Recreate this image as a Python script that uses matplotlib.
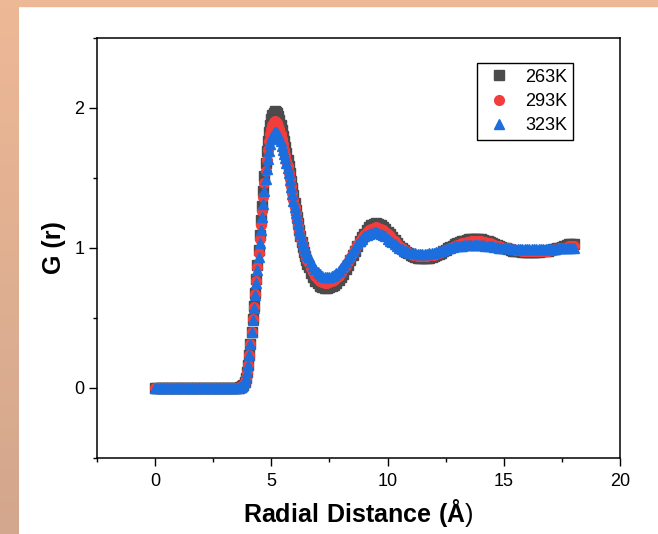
import numpy as np
import matplotlib
matplotlib.use('Agg')
import matplotlib.pyplot as plt
from matplotlib.patches import Rectangle
from matplotlib.colors import LinearSegmentedColormap

plt.rcParams['font.family'] = ['Liberation Sans', 'DejaVu Sans']
plt.rcParams['mathtext.fontset'] = 'custom'
plt.rcParams['mathtext.rm'] = 'Liberation Sans'
plt.rcParams['mathtext.bf'] = 'Liberation Sans:bold'

# radial grid (Å): 0.1 steps, 0.05 steps over the first peak
r = np.concatenate([np.linspace(0, 3.5, 36), np.linspace(3.6, 6.55, 60), np.linspace(6.6, 18.0, 115)])

g263 = [0, 0, 0, 0, 0, 0, 0, 0, 0, 0, 0, 0, 0, 0, 0, 0, 0, 0,
        0, 0, 0, 0, 0, 0, 0, 0, 0, 0, 0, 0, 0, 0, 0, 0, 0, 0,
        # 3.60 - 6.55
        0.000, 0.002, 0.006, 0.012, 0.022, 0.040, 0.068, 0.11, 0.165, 0.235,
        0.315, 0.40, 0.49, 0.585, 0.68, 0.78, 0.88, 0.985, 1.09, 1.195,
        1.30, 1.405, 1.51, 1.605, 1.69, 1.765, 1.83, 1.88, 1.92, 1.945,
        1.965, 1.975, 1.97, 1.96, 1.94, 1.915, 1.88, 1.84, 1.80, 1.76,
        1.72, 1.675, 1.63, 1.58, 1.53, 1.48, 1.43, 1.375, 1.32, 1.27,
        1.22, 1.175, 1.13, 1.085, 1.04, 1.005, 0.97, 0.94, 0.91, 0.885,
        # 6.6 - 18.0
        0.86, 0.82, 0.79, 0.765, 0.745, 0.73, 0.72, 0.715, 0.715, 0.72,
        0.725, 0.735, 0.75, 0.77, 0.79, 0.815, 0.845, 0.875, 0.91, 0.945,
        0.98, 1.01, 1.045, 1.075, 1.10, 1.125, 1.145, 1.16, 1.17, 1.175,
        1.17, 1.165, 1.15, 1.135, 1.115, 1.095, 1.075, 1.055, 1.035, 1.015,
        1.00, 0.985, 0.97, 0.96, 0.95, 0.94, 0.935, 0.93, 0.925, 0.925,
        0.925, 0.925, 0.93, 0.935, 0.94, 0.945, 0.955, 0.965, 0.975, 0.985,
        0.995, 1.005, 1.015, 1.025, 1.03, 1.04, 1.045, 1.05, 1.055, 1.06,
        1.06, 1.06, 1.06, 1.06, 1.06, 1.055, 1.05, 1.045, 1.04, 1.035,
        1.025, 1.02, 1.01, 1.005, 1.00, 0.995, 0.99, 0.985, 0.98, 0.98,
        0.975, 0.975, 0.97, 0.97, 0.97, 0.97, 0.97, 0.97, 0.97, 0.97,
        0.975, 0.975, 0.98, 0.98, 0.985, 0.99, 0.99, 0.995, 1.00, 1.005,
        1.01, 1.02, 1.025, 1.025, 1.025]

g293 = [0, 0, 0, 0, 0, 0, 0, 0, 0, 0, 0, 0, 0, 0, 0, 0, 0, 0,
        0, 0, 0, 0, 0, 0, 0, 0, 0, 0, 0, 0, 0, 0, 0, 0, 0, 0,
        0.000, 0.002, 0.006, 0.012, 0.022, 0.040, 0.068, 0.11, 0.165, 0.235,
        0.315, 0.40, 0.49, 0.58, 0.67, 0.765, 0.86, 0.96, 1.06, 1.16,
        1.26, 1.36, 1.46, 1.55, 1.63, 1.70, 1.76, 1.81, 1.85, 1.875,
        1.895, 1.905, 1.90, 1.89, 1.87, 1.845, 1.81, 1.775, 1.74, 1.70,
        1.66, 1.62, 1.58, 1.535, 1.49, 1.44, 1.39, 1.34, 1.29, 1.245,
        1.20, 1.155, 1.11, 1.075, 1.04, 1.01, 0.98, 0.955, 0.93, 0.91,
        0.89, 0.855, 0.825, 0.80, 0.78, 0.765, 0.755, 0.75, 0.75, 0.755,
        0.76, 0.77, 0.785, 0.80, 0.82, 0.845, 0.87, 0.90, 0.93, 0.96,
        0.99, 1.02, 1.045, 1.07, 1.09, 1.11, 1.125, 1.135, 1.14, 1.145,
        1.14, 1.135, 1.125, 1.11, 1.095, 1.08, 1.06, 1.045, 1.025, 1.01,
        0.995, 0.985, 0.975, 0.965, 0.955, 0.95, 0.945, 0.94, 0.94, 0.94,
        0.94, 0.94, 0.945, 0.945, 0.95, 0.955, 0.96, 0.97, 0.975, 0.985,
        0.99, 1.00, 1.005, 1.015, 1.02, 1.025, 1.03, 1.035, 1.04, 1.04,
        1.045, 1.045, 1.045, 1.045, 1.045, 1.04, 1.04, 1.035, 1.03, 1.025,
        1.02, 1.015, 1.01, 1.005, 1.00, 1.00, 0.995, 0.99, 0.99, 0.985,
        0.985, 0.985, 0.98, 0.98, 0.98, 0.98, 0.98, 0.98, 0.98, 0.98,
        0.98, 0.98, 0.98, 0.98, 0.985, 0.985, 0.99, 0.99, 0.995, 0.995,
        1.00, 1.005, 1.01, 1.015, 1.015]

g323 = [0, 0, 0, 0, 0, 0, 0, 0, 0, 0, 0, 0, 0, 0, 0, 0, 0, 0,
        0, 0, 0, 0, 0, 0, 0, 0, 0, 0, 0, 0, 0, 0, 0, 0, 0, 0,
        0.000, 0.002, 0.006, 0.012, 0.022, 0.040, 0.068, 0.11, 0.165, 0.235,
        0.315, 0.40, 0.485, 0.57, 0.66, 0.75, 0.84, 0.935, 1.03, 1.125,
        1.22, 1.315, 1.405, 1.49, 1.565, 1.635, 1.69, 1.74, 1.775, 1.80,
        1.82, 1.83, 1.83, 1.82, 1.805, 1.785, 1.76, 1.73, 1.70, 1.67,
        1.64, 1.605, 1.57, 1.53, 1.485, 1.435, 1.385, 1.335, 1.29, 1.25,
        1.21, 1.17, 1.13, 1.095, 1.06, 1.035, 1.01, 0.99, 0.97, 0.95,
        0.935, 0.90, 0.87, 0.845, 0.825, 0.81, 0.80, 0.79, 0.79, 0.79,
        0.795, 0.805, 0.82, 0.835, 0.855, 0.875, 0.90, 0.925, 0.95, 0.975,
        1.00, 1.025, 1.045, 1.065, 1.08, 1.09, 1.10, 1.105, 1.11, 1.11,
        1.105, 1.10, 1.09, 1.08, 1.065, 1.05, 1.04, 1.025, 1.01, 1.00,
        0.99, 0.98, 0.975, 0.97, 0.965, 0.96, 0.96, 0.955, 0.955, 0.955,
        0.955, 0.955, 0.96, 0.96, 0.965, 0.97, 0.975, 0.98, 0.985, 0.99,
        0.995, 1.00, 1.005, 1.01, 1.01, 1.015, 1.015, 1.02, 1.02, 1.02,
        1.02, 1.02, 1.02, 1.02, 1.02, 1.02, 1.015, 1.015, 1.01, 1.01,
        1.005, 1.005, 1.00, 1.00, 1.00, 0.995, 0.995, 0.995, 0.99, 0.99,
        0.99, 0.99, 0.99, 0.99, 0.99, 0.99, 0.99, 0.99, 0.99, 0.99,
        0.99, 0.99, 0.99, 0.99, 0.99, 0.99, 0.99, 0.995, 0.995, 0.995,
        0.995, 1.00, 1.00, 1.00, 1.00]

labels = ['263K', '293K', '323K']
colors = ['#4B4B4B', '#F23D3D', '#1C6EDE']
markers = ['s', 'o', '^']
sizes = [6.5, 7, 7.5]

fig = plt.figure(figsize=(6.58, 5.34), dpi=100)

# tan frame on the left and top edges
bg = fig.add_axes([0, 0, 19 / 658, 1])
cmap = LinearSegmentedColormap.from_list('tan', ['#D3A78D', '#EDB896'])
bg.imshow(np.linspace(0, 1, 100).reshape(-1, 1), cmap=cmap, aspect='auto', origin='lower')
bg.axis('off')
fig.patches.append(Rectangle((0, 1 - 6 / 534), 1, 6 / 534, transform=fig.transFigure,
                             color='#EDB896', zorder=0))

ax = fig.add_axes([97 / 658, (534 - 457.7) / 534, 523 / 658, 420 / 534])
for g, lab, c, m, s in zip([g263, g293, g323], labels, colors, markers, sizes):
    ax.plot(r, g, linestyle='none', marker=m, ms=s, color=c, mec=c, label=lab)

ax.set_xlim(-2.5, 20)
ax.set_ylim(-0.5, 2.5)
ax.set_xticks([0, 5, 10, 15, 20])
ax.set_xticks(np.arange(-2.5, 20, 5), minor=True)
ax.set_yticks([0, 1, 2])
ax.set_yticks([-0.5, 0.5, 1.5, 2.5], minor=True)
ax.tick_params(which='major', direction='out', length=6, width=1, labelsize=13)
ax.tick_params(which='minor', direction='out', length=3, width=1)
ax.tick_params(axis='x', pad=5)
ax.tick_params(axis='y', pad=3)
for sp in ax.spines.values():
    sp.set_linewidth(1.1)

ax.set_xlabel(r'$\mathbf{Radial\ Distance\ (Å}$)', fontsize=18)
ax.set_ylabel('G (r)', fontsize=18, fontweight='bold')
ax.xaxis.set_label_coords(0.5, -0.094)
ax.yaxis.set_label_coords(-0.059, 0.5)

ax.legend(loc='upper right', bbox_to_anchor=(0.910, 0.939), borderaxespad=0,
          fontsize=13, frameon=True, fancybox=False, edgecolor='black',
          framealpha=1, borderpad=0.3, labelspacing=0.4, handlelength=1.9,
          handletextpad=0.5).get_frame().set_linewidth(1)

fig.savefig('out.png', dpi=100)
